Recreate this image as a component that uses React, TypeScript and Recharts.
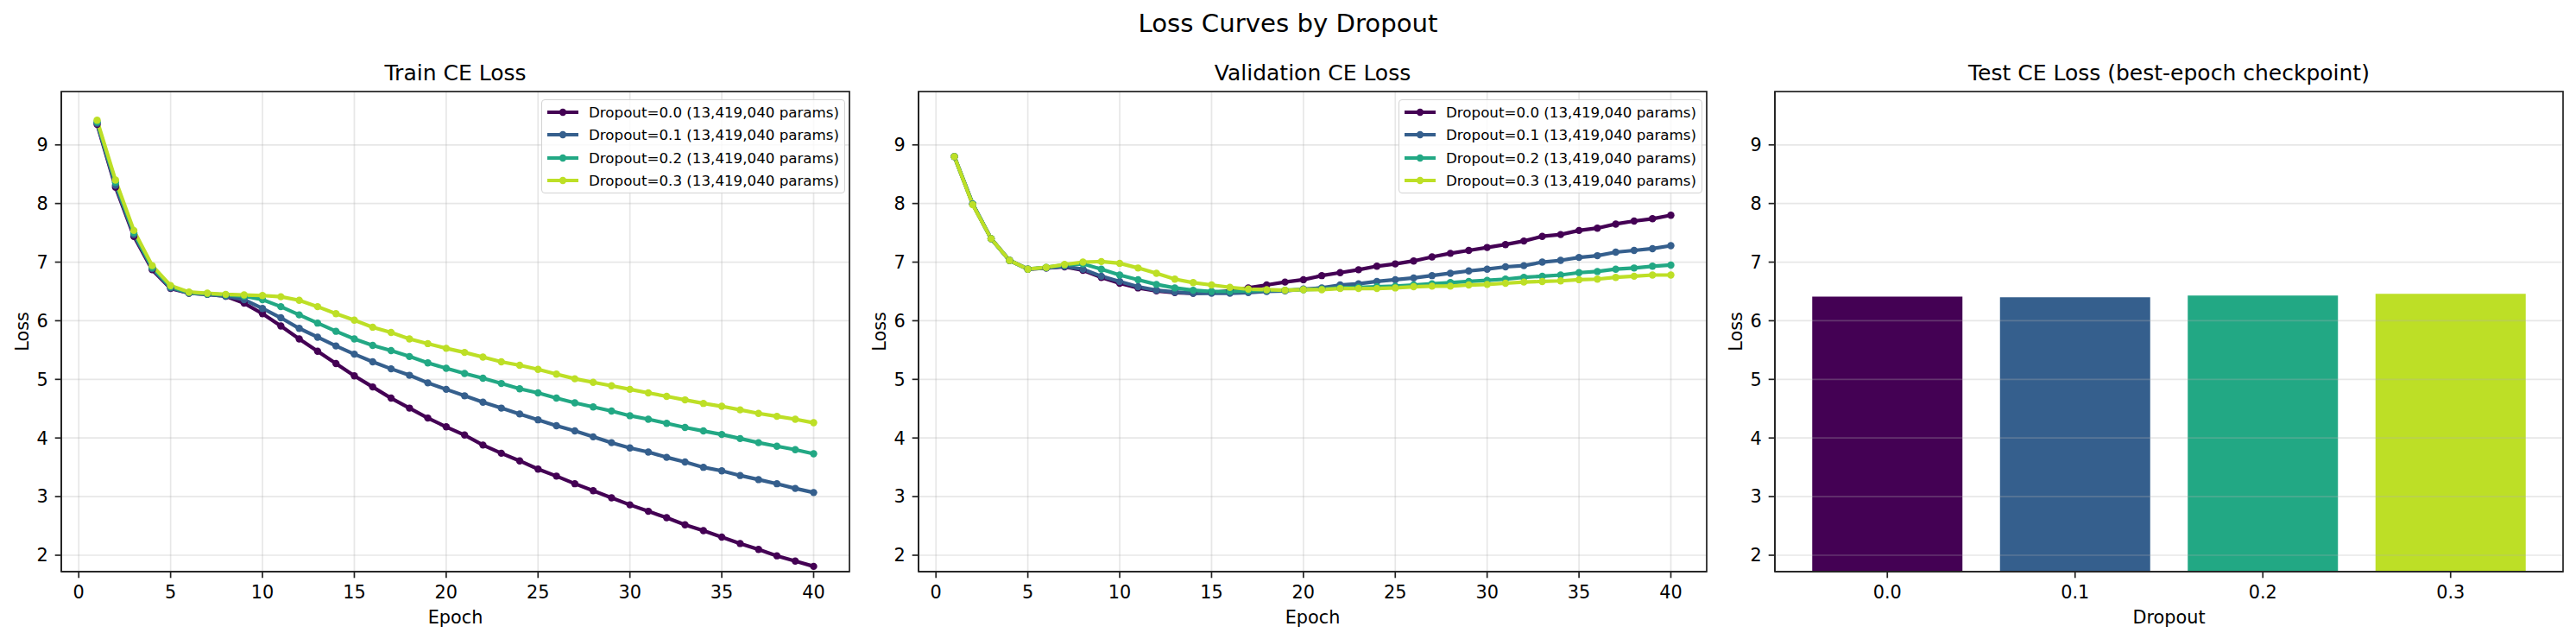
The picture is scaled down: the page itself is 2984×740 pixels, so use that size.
import React from 'react';
import { LineChart, Line, BarChart, Bar, Cell, XAxis, YAxis, CartesianGrid, Legend, ReferenceLine } from 'recharts';

// epochs on the x axis of the two curve panels
const epochs = [1, 2, 3, 4, 5, 6, 7, 8, 9, 10, 11, 12, 13, 14, 15, 16, 17, 18, 19, 20,
  21, 22, 23, 24, 25, 26, 27, 28, 29, 30, 31, 32, 33, 34, 35, 36, 37, 38, 39, 40];

const dropoutLabels = ['0.0', '0.1', '0.2', '0.3'];
const seriesColors = ['#440154', '#355f8d', '#22a884', '#bddf26'];
const paramCount = '13,419,040';

const trainLoss00 = [9.35, 8.28, 7.44, 6.87, 6.55, 6.47, 6.45, 6.42, 6.30, 6.12, 5.91, 5.69, 5.48, 5.27, 5.06, 4.87, 4.68, 4.51, 4.34, 4.19,
  4.05, 3.88, 3.74, 3.61, 3.47, 3.35, 3.22, 3.10, 2.98, 2.86, 2.75, 2.64, 2.52, 2.42, 2.31, 2.20, 2.10, 1.99, 1.90, 1.81];
const trainLoss01 = [9.37, 8.31, 7.47, 6.89, 6.56, 6.47, 6.45, 6.42, 6.36, 6.21, 6.05, 5.87, 5.72, 5.57, 5.43, 5.30, 5.18, 5.07, 4.94, 4.83,
  4.72, 4.61, 4.51, 4.41, 4.31, 4.21, 4.12, 4.02, 3.92, 3.83, 3.76, 3.67, 3.59, 3.50, 3.44, 3.36, 3.29, 3.22, 3.14, 3.07];
const trainLoss02 = [9.39, 8.36, 7.50, 6.91, 6.58, 6.48, 6.46, 6.44, 6.42, 6.36, 6.24, 6.10, 5.96, 5.82, 5.69, 5.58, 5.49, 5.39, 5.28, 5.19,
  5.10, 5.02, 4.93, 4.84, 4.77, 4.68, 4.60, 4.53, 4.46, 4.38, 4.32, 4.25, 4.18, 4.12, 4.06, 3.99, 3.92, 3.86, 3.80, 3.73];
const trainLoss03 = [9.42, 8.40, 7.54, 6.94, 6.60, 6.49, 6.47, 6.45, 6.44, 6.43, 6.41, 6.35, 6.24, 6.12, 6.01, 5.89, 5.80, 5.69, 5.61, 5.53,
  5.46, 5.38, 5.30, 5.24, 5.17, 5.09, 5.01, 4.95, 4.89, 4.83, 4.77, 4.71, 4.65, 4.59, 4.54, 4.48, 4.42, 4.37, 4.32, 4.26];

const valLoss00 = [8.80, 7.99, 7.40, 7.03, 6.88, 6.90, 6.92, 6.86, 6.74, 6.64, 6.56, 6.51, 6.48, 6.47, 6.48, 6.51, 6.56, 6.61, 6.66, 6.70,
  6.77, 6.82, 6.87, 6.93, 6.97, 7.02, 7.09, 7.15, 7.20, 7.25, 7.30, 7.36, 7.44, 7.47, 7.54, 7.58, 7.65, 7.70, 7.74, 7.80];
const valLoss01 = [8.80, 7.99, 7.40, 7.03, 6.88, 6.90, 6.93, 6.88, 6.76, 6.67, 6.58, 6.52, 6.49, 6.47, 6.47, 6.47, 6.48, 6.50, 6.51, 6.54,
  6.56, 6.61, 6.63, 6.67, 6.70, 6.73, 6.77, 6.81, 6.85, 6.88, 6.92, 6.94, 7.00, 7.03, 7.08, 7.11, 7.17, 7.20, 7.23, 7.28];
const valLoss02 = [8.80, 7.99, 7.40, 7.03, 6.88, 6.91, 6.95, 6.97, 6.88, 6.78, 6.70, 6.62, 6.56, 6.52, 6.50, 6.50, 6.51, 6.52, 6.52, 6.53,
  6.54, 6.56, 6.57, 6.58, 6.59, 6.61, 6.63, 6.65, 6.67, 6.69, 6.71, 6.74, 6.76, 6.78, 6.82, 6.84, 6.88, 6.90, 6.93, 6.95];
const valLoss03 = [8.80, 7.98, 7.40, 7.03, 6.88, 6.91, 6.96, 7.00, 7.01, 6.98, 6.90, 6.81, 6.71, 6.65, 6.61, 6.57, 6.54, 6.53, 6.52, 6.53,
  6.53, 6.55, 6.55, 6.55, 6.56, 6.58, 6.59, 6.59, 6.61, 6.62, 6.64, 6.66, 6.67, 6.68, 6.70, 6.71, 6.74, 6.76, 6.78, 6.78];

const testLoss = [6.41, 6.40, 6.43, 6.46];

const epochTicks = [0, 5, 10, 15, 20, 25, 30, 35, 40];
const lossTicks = [2, 3, 4, 5, 6, 7, 8, 9];

const FONT = 'DejaVu Sans';
const INK = '#222';
const LOSS_DOMAIN = [1.72, 9.91];
const EPOCH_DOMAIN = [-0.95, 41.95];

// every panel shares the same plot box inside its own 1000px wide chart
const PLOT = { left: 71, top: 106, width: 913, height: 556 };
const panelOffsets = [0, 993, 1985];

function buildRows(series: number[][]) {
  return epochs.map((epoch, i) => {
    const row: Record<string, number> = { epoch };
    series.forEach((values, s) => {
      row[`d${s}`] = values[i];
    });
    return row;
  });
}

const trainRows = buildRows([trainLoss00, trainLoss01, trainLoss02, trainLoss03]);
const valRows = buildRows([valLoss00, valLoss01, valLoss02, valLoss03]);
const testRows = dropoutLabels.map((label, i) => ({ label, loss: testLoss[i] }));

const tickStyle = { fill: '#000', fontSize: 20.8, fontFamily: FONT };
const spine = { stroke: INK, strokeWidth: 1.7 };

function LegendBox() {
  return (
    <div
      style={{
        border: '1.3px solid #d3d3d3',
        borderRadius: 4,
        background: 'rgba(255,255,255,0.8)',
        padding: '1px 6px',
        fontFamily: FONT,
        fontSize: 16.7,
        lineHeight: '26.3px',
        color: '#000',
      }}
    >
      {dropoutLabels.map((d, i) => (
        <div key={d} style={{ display: 'flex', alignItems: 'center', whiteSpace: 'nowrap' }}>
          <svg width={36} height={12} style={{ marginRight: 12 }}>
            <line x1={0} y1={6} x2={36} y2={6} stroke={seriesColors[i]} strokeWidth={4.2} />
            <circle cx={18} cy={6} r={4.2} fill={seriesColors[i]} />
          </svg>
          <span>Dropout={d} ({paramCount} params)</span>
        </div>
      ))}
    </div>
  );
}

function xLabel(text: string) {
  return {
    content: ({ viewBox }: any) => (
      <text x={viewBox.x + viewBox.width / 2} y={722} textAnchor="middle" fontFamily={FONT} fontSize={20.8} fill="#000">
        {text}
      </text>
    ),
  };
}

function yLabel(text: string) {
  return {
    content: ({ viewBox }: any) => {
      const cy = viewBox.y + viewBox.height / 2;
      return (
        <text x={33} y={cy} transform={`rotate(-90 33 ${cy})`} textAnchor="middle" fontFamily={FONT} fontSize={20.8} fill="#000">
          {text}
        </text>
      );
    },
  };
}

function CurvePanel({ rows }: { rows: Record<string, number>[] }) {
  return (
    <LineChart width={1000} height={740} data={rows} margin={{ top: 106, right: 16, bottom: 0, left: 0 }}>
      <CartesianGrid stroke="#b0b0b0" strokeOpacity={0.3} strokeWidth={1.7} />
      <XAxis
        dataKey="epoch"
        type="number"
        domain={EPOCH_DOMAIN}
        ticks={epochTicks}
        allowDataOverflow
        height={78}
        tick={tickStyle}
        tickSize={7.3}
        tickMargin={9}
        tickLine={spine}
        axisLine={spine}
        label={xLabel('Epoch')}
      />
      <YAxis
        type="number"
        domain={LOSS_DOMAIN}
        ticks={lossTicks}
        allowDataOverflow
        width={71}
        tick={tickStyle}
        tickSize={7.3}
        tickMargin={8}
        tickLine={spine}
        axisLine={spine}
        label={yLabel('Loss')}
      />
      {dropoutLabels.map((d, i) => (
        <Line
          key={d}
          dataKey={`d${i}`}
          name={`Dropout=${d} (${paramCount} params)`}
          stroke={seriesColors[i]}
          strokeWidth={4.2}
          dot={{ r: 4.2, fill: seriesColors[i], stroke: seriesColors[i], strokeWidth: 0 }}
          activeDot={false}
          isAnimationActive={false}
        />
      ))}
      <Legend
        layout="vertical"
        align="center"
        verticalAlign="middle"
        wrapperStyle={{ top: 115, left: 627, width: 'auto', height: 'auto' }}
        content={() => <LegendBox />}
      />
    </LineChart>
  );
}

function TestPanel() {
  return (
    <BarChart width={999} height={740} data={testRows} margin={{ top: 106, right: 15, bottom: 0, left: 0 }} barCategoryGap="10%">
      <XAxis
        dataKey="label"
        padding={{ left: 21.5, right: 21.5 }}
        height={78}
        tick={tickStyle}
        tickSize={7.3}
        tickMargin={9}
        tickLine={spine}
        axisLine={spine}
        label={xLabel('Dropout')}
      />
      <YAxis
        type="number"
        domain={LOSS_DOMAIN}
        ticks={lossTicks}
        allowDataOverflow
        width={71}
        tick={tickStyle}
        tickSize={7.3}
        tickMargin={8}
        tickLine={spine}
        axisLine={spine}
        label={yLabel('Loss')}
      />
      <Bar dataKey="loss" isAnimationActive={false}>
        {testRows.map((row, i) => (
          <Cell key={row.label} fill={seriesColors[i]} />
        ))}
      </Bar>
      {lossTicks.map((t) => (
        <ReferenceLine key={t} y={t} stroke="#b0b0b0" strokeOpacity={0.3} strokeWidth={1.7} />
      ))}
    </BarChart>
  );
}

const panelTitles = ['Train CE Loss', 'Validation CE Loss', 'Test CE Loss (best-epoch checkpoint)'];

export default function App() {
  return (
    <div style={{ position: 'absolute', left: 0, top: 0, width: 2984, height: 740, overflow: 'hidden', background: '#fff', fontFamily: FONT }}>
      <div style={{ position: 'absolute', left: panelOffsets[0], top: 0 }}>
        <CurvePanel rows={trainRows} />
      </div>
      <div style={{ position: 'absolute', left: panelOffsets[1], top: 0 }}>
        <CurvePanel rows={valRows} />
      </div>
      <div style={{ position: 'absolute', left: panelOffsets[2], top: 0 }}>
        <TestPanel />
      </div>
      <svg width={2984} height={740} style={{ position: 'absolute', left: 0, top: 0, pointerEvents: 'none' }}>
        <text x={1492} y={37} textAnchor="middle" fontFamily={FONT} fontSize={29.2} fill="#000">
          Loss Curves by Dropout
        </text>
        {panelTitles.map((title, i) => (
          <g key={title}>
            <text
              x={panelOffsets[i] + PLOT.left + PLOT.width / 2}
              y={93}
              textAnchor="middle"
              fontFamily={FONT}
              fontSize={25}
              fill="#000"
            >
              {title}
            </text>
            {/* axes frame: matplotlib draws all four spines */}
            <rect
              x={panelOffsets[i] + PLOT.left}
              y={PLOT.top}
              width={PLOT.width}
              height={PLOT.height}
              fill="none"
              stroke={INK}
              strokeWidth={1.7}
            />
          </g>
        ))}
      </svg>
    </div>
  );
}
